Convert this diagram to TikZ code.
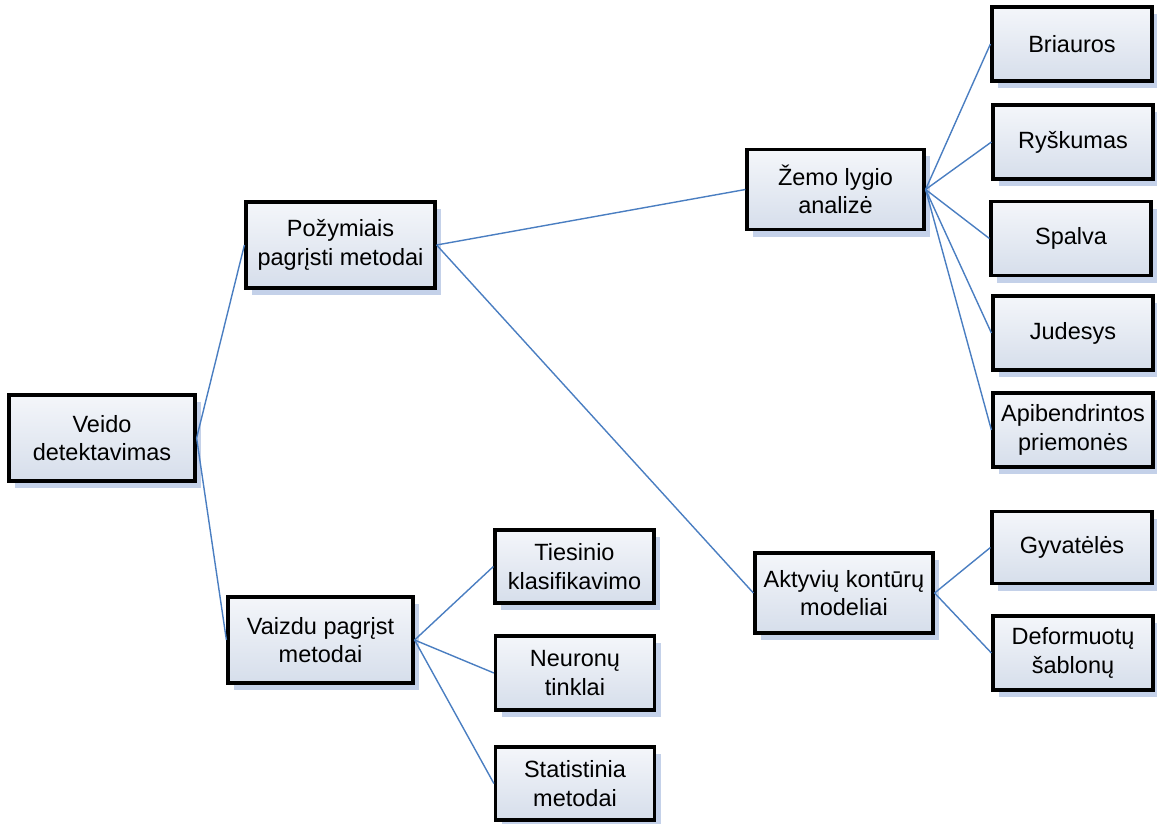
\documentclass[tikz,border=0pt]{standalone}
\usepackage{fontspec}
\setmainfont{Liberation Sans}
\usetikzlibrary{shadows}
\definecolor{linkblue}{RGB}{74,126,193}
\definecolor{shadowblue}{RGB}{196,209,233}
\definecolor{filltop}{RGB}{244,246,250}
\definecolor{fillbot}{RGB}{214,222,235}
\tikzset{
  box/.style={draw=black, line width=3.2pt, rectangle, inner sep=0pt,
    top color=filltop, bottom color=fillbot, align=center,
    font=\fontsize{23.5}{28.5}\selectfont,
    drop shadow={shadow xshift=6pt, shadow yshift=-7pt, fill=shadowblue, opacity=1}},
  link/.style={draw=linkblue, line width=1.4pt}
}
\begin{document}
\begin{tikzpicture}[x=1pt,y=-1pt]
\useasboundingbox (0,0) rectangle (1157,824);
\node[box, minimum width=186pt, minimum height=86pt] (veido) at (102,438) {Veido\\detektavimas};
\node[box, minimum width=189pt, minimum height=86pt] (pozym) at (340.5,245) {Požymiais\\pagrįsti metodai};
\node[box, minimum width=185pt, minimum height=86pt] (vaizdu) at (320.5,640) {Vaizdu pagrįst\\metodai};
\node[box, minimum width=177pt, minimum height=80pt] (zemo) at (835.5,189.5) {Žemo lygio\\analizė};
\node[box, minimum width=178pt, minimum height=80pt] (aktyv) at (844,593) {Aktyvių kontūrų\\modeliai};
\node[box, minimum width=159pt, minimum height=73pt] (tiesin) at (574.5,566.5) {Tiesinio\\klasifikavimo};
\node[box, minimum width=159pt, minimum height=74pt] (neuron) at (575,673) {Neuronų\\tinklai};
\node[box, minimum width=159pt, minimum height=73pt] (statist) at (575,783.5) {Statistinia\\metodai};
\node[box, minimum width=160pt, minimum height=74pt] (briaur) at (1072,44) {Briauros};
\node[box, minimum width=160pt, minimum height=74pt] (ryskum) at (1073,142) {Ryškumas};
\node[box, minimum width=160pt, minimum height=74pt] (spalva) at (1071,238.5) {Spalva};
\node[box, minimum width=160pt, minimum height=74pt] (judes) at (1073,333) {Judesys};
\node[box, minimum width=160pt, minimum height=74pt] (apib) at (1073,430) {Apibendrintos\\priemonės};
\node[box, minimum width=160pt, minimum height=72pt] (gyvat) at (1072,547.5) {Gyvatėlės};
\node[box, minimum width=160pt, minimum height=74pt] (deform) at (1073,653) {Deformuotų\\šablonų};
\draw[link] (veido.east) -- (pozym.west);
\draw[link] (veido.east) -- (vaizdu.west);
\draw[link] (pozym.east) -- (zemo.west);
\draw[link] (pozym.east) -- (aktyv.west);
\draw[link] (vaizdu.east) -- (tiesin.west);
\draw[link] (vaizdu.east) -- (neuron.west);
\draw[link] (vaizdu.east) -- (statist.west);
\draw[link] (zemo.east) -- (briaur.west);
\draw[link] (zemo.east) -- (ryskum.west);
\draw[link] (zemo.east) -- (spalva.west);
\draw[link] (zemo.east) -- (judes.west);
\draw[link] (zemo.east) -- (apib.west);
\draw[link] (aktyv.east) -- (gyvat.west);
\draw[link] (aktyv.east) -- (deform.west);
\end{tikzpicture}
\end{document}
